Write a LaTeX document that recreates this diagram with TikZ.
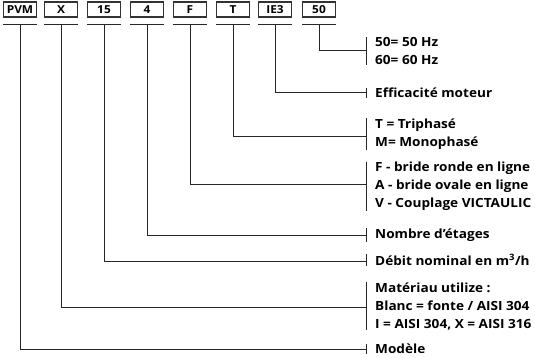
\documentclass[tikz,border=0pt]{standalone}
\usepackage{fontspec}
\setmainfont{Open Sans}[FakeStretch=1.08]
\begin{document}
\begin{tikzpicture}[x=1pt,y=-1pt,
  codebox/.style={draw=black!80,line width=1.1pt,minimum width=33pt,minimum height=15pt,inner sep=0pt,font=\bfseries\fontsize{11}{12}\selectfont},
  lab/.style={anchor=west,align=left,inner sep=0pt,font=\bfseries\fontsize{12.6}{18}\selectfont},
  conn/.style={draw=black!85,line width=0.9pt}]
\useasboundingbox (0,0) rectangle (535,357);
% code boxes
\node[codebox] (b1) at (20,9.5) {PVM};
\node[codebox] (b2) at (61,9.5) {X};
\node[codebox] (b3) at (104,9.5) {15};
\node[codebox] (b4) at (147,9.5) {4};
\node[codebox] (b5) at (190,9.5) {F};
\node[codebox] (b6) at (233,9.5) {T};
\node[codebox] (b7) at (275,9.5) {IE3};
\node[codebox] (b8) at (319,9.5) {50};
% underlines
\foreach \i in {1,...,8}{
  \draw[conn] (b\i.south west |- 0,24) -- (b\i.south east |- 0,24);
  \coordinate (u\i) at (b\i.south |- 0,24);
}
% labels
\node[lab] (l8) at (375,51) {50= 50 Hz\\60= 60 Hz};
\node[lab] (l7) at (375,93) {Efficacité moteur};
\node[lab] (l6) at (375,134) {T = Triphasé\\M= Monophasé};
\node[lab] (l5) at (375,186) {F - bride ronde en ligne\\A - bride ovale en ligne\\V - Couplage VICTAULIC};
\node[lab] (l4) at (375,235) {Nombre d’étages};
\node[lab] (l3) at (375,260) {Débit nominal en m\textsuperscript{3}/h};
\node[lab] (l2) at (375,306) {Matériau utilize :\\Blanc = fonte / AISI 304\\I = AISI 304, X = AISI 316};
\node[lab] (l1) at (375,349) {Modèle};
% bars and connectors
\foreach \i/\lv in {1/349,2/307,3/261,4/235,5/184,6/136,7/92,8/50}{
  \draw[conn] ([xshift=-9pt]l\i.north west) -- ([xshift=-9pt]l\i.south west);
  \coordinate (e\i) at ([xshift=-9pt]l\i.west |- 0,\lv);
  \draw[conn] (u\i) |- (e\i);
}
\end{tikzpicture}
\end{document}
